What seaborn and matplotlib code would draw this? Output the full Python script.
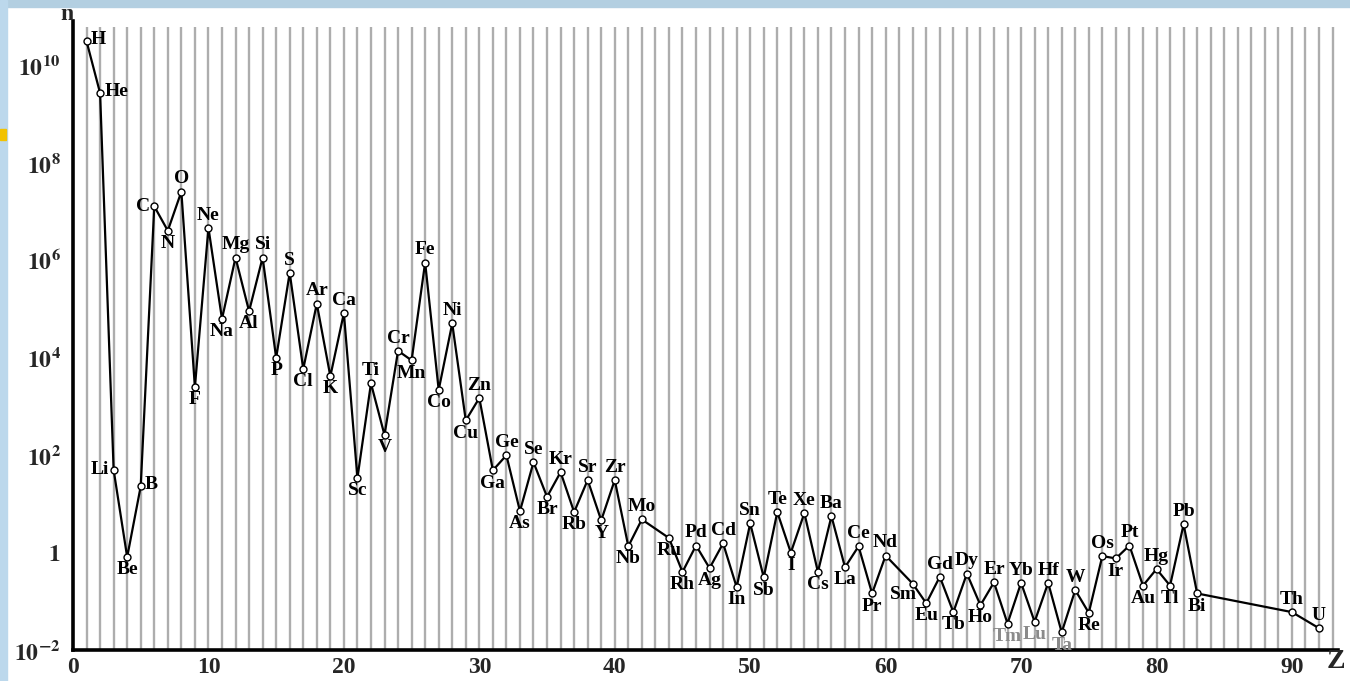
import matplotlib
matplotlib.use("Agg")
import matplotlib.pyplot as plt
from matplotlib.patches import Rectangle
import seaborn as sns
import pandas as pd
import numpy as np

# Element symbols, atomic numbers and relative abundances (Si = 10^6 scale)
symbols = ["H", "He", "Li", "Be", "B", "C", "N", "O", "F", "Ne",
           "Na", "Mg", "Al", "Si", "P", "S", "Cl", "Ar", "K", "Ca",
           "Sc", "Ti", "V", "Cr", "Mn", "Fe", "Co", "Ni", "Cu", "Zn",
           "Ga", "Ge", "As", "Se", "Br", "Kr", "Rb", "Sr", "Y", "Zr",
           "Nb", "Mo", "Ru", "Rh", "Pd", "Ag", "Cd", "In", "Sn", "Sb",
           "Te", "I", "Xe", "Cs", "Ba", "La", "Ce", "Pr", "Nd", "Sm",
           "Eu", "Gd", "Tb", "Dy", "Ho", "Er", "Tm", "Yb", "Lu", "Hf",
           "Ta", "W", "Re", "Os", "Ir", "Pt", "Au", "Hg", "Tl", "Pb",
           "Bi", "Th", "U"]
atomic_number = [1, 2, 3, 4, 5, 6, 7, 8, 9, 10,
                 11, 12, 13, 14, 15, 16, 17, 18, 19, 20,
                 21, 22, 23, 24, 25, 26, 27, 28, 29, 30,
                 31, 32, 33, 34, 35, 36, 37, 38, 39, 40,
                 41, 42, 44, 45, 46, 47, 48, 49, 50, 51,
                 52, 53, 54, 55, 56, 57, 58, 59, 60, 62,
                 63, 64, 65, 66, 67, 68, 69, 70, 71, 72,
                 73, 74, 75, 76, 77, 78, 79, 80, 81, 82,
                 83, 90, 92]
abundance = [3.2e10, 2.75e9, 50, 0.81, 23, 1.3e7, 4.1e6, 2.6e7, 2500, 4.7e6,
             6.3e4, 1.15e6, 9.1e4, 1.15e6, 1.0e4, 5.6e5, 5900, 1.3e5, 4200, 8.3e4,
             34, 3000, 260, 1.4e4, 8900, 9.1e5, 2200, 5.1e4, 520, 1500,
             49, 100, 7.1, 72, 14, 45, 6.8, 31, 4.6, 31,
             1.35, 4.8, 2.0, 0.40, 1.4, 0.48, 1.55, 0.195, 4.0, 0.31,
             6.8, 1.0, 6.5, 0.40, 5.6, 0.50, 1.35, 0.145, 0.87, 0.23,
             0.091, 0.32, 0.060, 0.37, 0.083, 0.245, 0.035, 0.24, 0.038, 0.24,
             0.023, 0.17, 0.058, 0.85, 0.76, 1.4, 0.21, 0.46, 0.21, 3.8,
             0.145, 0.060, 0.028]

ytick_values = [1e-2, 1, 1e2, 1e4, 1e6, 1e8, 1e10]
ytick_labels = [r"$\mathbf{10^{-2}}$", r"$\mathbf{1}$", r"$\mathbf{10^{2}}$",
                r"$\mathbf{10^{4}}$", r"$\mathbf{10^{6}}$", r"$\mathbf{10^{8}}$",
                r"$\mathbf{10^{10}}$"]
xtick_values = [0, 10, 20, 30, 40, 50, 60, 70, 80, 90]

# label placement around each marker: a=above, b=below, l=left, r=right
placement = {"H": "r", "He": "r", "Li": "l", "Be": "b", "B": "r", "C": "l",
             "Sm": "bl"}
faint_labels = {"Tm", "Lu", "Ta"}
below_set = {"N", "F", "Na", "Al", "P", "Cl", "K", "Sc", "V", "Mn", "Co", "Cu",
             "Ga", "As", "Br", "Rb", "Y", "Nb", "Ru", "Rh", "Ag", "In", "Sb",
             "I", "Cs", "La", "Pr", "Eu", "Tb", "Ho", "Tm", "Lu", "Ta", "Re",
             "Ir", "Au", "Tl", "Bi"}

df = pd.DataFrame({"Z": atomic_number, "n": abundance, "sym": symbols})

sns.set_style("white")
plt.rcParams["font.family"] = ["Liberation Serif", "DejaVu Serif"]
plt.rcParams["mathtext.fontset"] = "stix"

W, H = 1350, 681
fig = plt.figure(figsize=(W / 100, H / 100), dpi=100)
fig.patch.set_facecolor("white")

# light blue frame strips and small accent block
fig.patches.append(Rectangle((0, 1 - 7 / H), 1, 7 / H, transform=fig.transFigure,
                             color="#b3cfe1", zorder=0))
fig.patches.append(Rectangle((0, 0), 7 / W, 1, transform=fig.transFigure,
                             color="#bcd8ec", zorder=0))
fig.patches.append(Rectangle((0, 1 - 140 / H), 6 / W, 11 / H, transform=fig.transFigure,
                             color="#f2c200", zorder=1))

left, right, top, bottom = 73, 1338, 21, 650
ax = fig.add_axes([left / W, 1 - bottom / H, (right - left) / W, (bottom - top) / H])
ax.set_facecolor("none")
ax.set_yscale("log")
ax.set_xlim(0, 93.4)
ax.set_ylim(1e-2, 10 ** 10.92)

# vertical grid at every atomic number
ax.vlines(np.arange(1, 94), 1e-2, 10 ** 10.8, color="#adadad", lw=1.7, zorder=0)

sns.lineplot(data=df, x="Z", y="n", ax=ax, color="black", lw=1.6, sort=True,
             estimator=None, marker="o", markersize=5, markerfacecolor="white",
             markeredgecolor="black", markeredgewidth=1.0, zorder=3)

for z, v, s in zip(atomic_number, abundance, symbols):
    pos = placement.get(s, "b" if s in below_set else "a")
    if pos == "a":
        off, ha, va = (0, 3), "center", "bottom"
    elif pos == "b":
        off, ha, va = (0, -3), "center", "top"
    elif pos == "l":
        off, ha, va = (-3, 0), "right", "center"
    elif pos == "r":
        off, ha, va = (3, 1), "left", "center"
    else:
        off, ha, va = (3, -2), "right", "top"
    color = "#8a8a8a" if s in faint_labels else "black"
    ax.annotate(s, (z, v), xytext=off, textcoords="offset points", ha=ha, va=va,
                fontsize=14, fontweight="bold", color=color, zorder=4)

for side in ("top", "right"):
    ax.spines[side].set_visible(False)
for side in ("left", "bottom"):
    ax.spines[side].set_linewidth(2.6)
    ax.spines[side].set_color("black")

ax.set_yticks(ytick_values)
ax.set_yticklabels(ytick_labels, fontsize=17)
ax.yaxis.set_minor_locator(matplotlib.ticker.NullLocator())
ax.tick_params(axis="y", which="major", direction="out", length=6, width=2, pad=3)

ax.set_xticks(xtick_values)
ax.set_xticklabels([str(v) for v in xtick_values], fontsize=17, fontweight="bold")
ax.set_xticks(np.arange(1, 94), minor=True)
ax.tick_params(axis="x", which="major", direction="in", length=10, width=2, pad=5)
ax.tick_params(axis="x", which="minor", direction="in", length=6, width=1.8)
ax.set_xlabel("")
ax.set_ylabel("")

fig.text(67 / W, 1 - 14 / H, "n", fontsize=17, fontweight="bold", ha="center", va="center")
fig.text(1336 / W, 1 - 662 / H, "Z", fontsize=20, fontweight="bold", ha="center", va="center")

fig.savefig("out.png", dpi=100)
